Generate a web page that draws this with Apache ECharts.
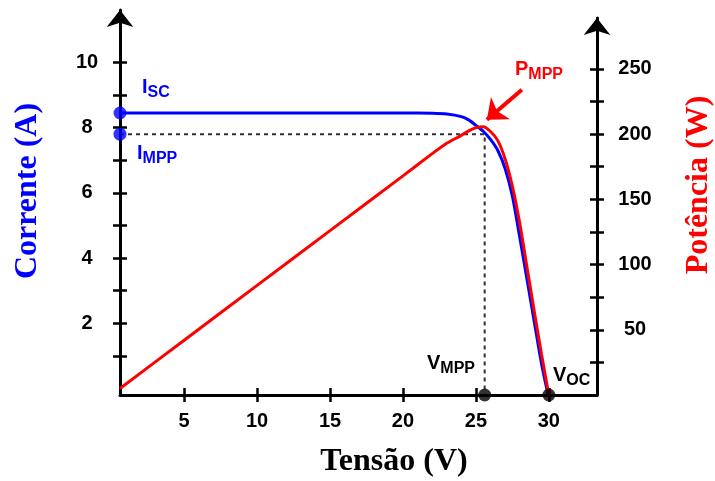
<!DOCTYPE html>
<html>
<head>
<meta charset="utf-8">
<script src="https://cdn.jsdelivr.net/npm/echarts@6/dist/echarts.min.js"></script>
<style>
  html, body { margin: 0; padding: 0; background: #fff; }
  #chart { width: 715px; height: 481px; }
</style>
</head>
<body>
<div id="chart"></div>
<script>
// curva I-V e P-V de um módulo fotovoltaico
const voltage = [0.6, 5, 10, 15, 20, 22, 23, 24, 24.5, 25, 25.5, 26, 26.5, 27, 27.5, 28, 28.5, 29, 29.5, 30];
const current = [8.45, 8.45, 8.45, 8.45, 8.45, 8.44, 8.42, 8.34, 8.24, 8.07, 7.89, 7.64, 7.3, 6.75, 5.9, 4.65, 3.35, 2.05, 0.75, -0.3];
const power = [5, 42, 84, 126, 168, 185, 193, 199, 202.5, 205, 205.7, 202, 195, 181, 160, 132, 98, 64, 31, 0];

const iSc = 8.45;
const iMpp = 7.8;
const vMpp = 25.6;
const vOc = 30;

const xTicks = [5, 10, 15, 20, 25, 30];
const currentTicks = [1, 2, 3, 4, 5, 6, 7, 8, 9, 10];
const currentLabels = [2, 4, 6, 8, 10];
const powerTicks = [25, 50, 75, 100, 125, 150, 175, 200, 225, 250];
const powerLabels = [50, 100, 150, 200, 250];

// seta do P_MPP (em V, W)
const arrowFrom = [28.15, 234];
const arrowTo = [25.75, 211];

const chart = echarts.init(document.getElementById('chart'));

const X_MIN = 0.6, X_MAX = 33.3;
const I_MIN = -0.2, I_MAX = 11.61;
const P_MIN = 0, P_MAX = 289;
const tickFont = { fontSize: 20, fontWeight: 'bold', fontFamily: 'Liberation Sans', color: '#000' };
const axisLine = { show: true, onZero: false, lineStyle: { color: '#000', width: 3 } };
const tickStyle = { color: '#000', width: 2.5 };

function sub(main, s, color, x, y) {
  return {
    type: 'text',
    x: x,
    y: y,
    z: 100,
    style: {
      text: '{m|' + main + '}{s|' + s + '}',
      align: 'left',
      verticalAlign: 'middle',
      fill: color,
      rich: {
        m: { fontSize: 20, fontWeight: 'bold', fontFamily: 'Liberation Sans', fill: color, verticalAlign: 'bottom', padding: [0, 0, 4, 0] },
        s: { fontSize: 16, fontWeight: 'bold', fontFamily: 'Liberation Sans', fill: color, verticalAlign: 'bottom' }
      }
    }
  };
}

function axisName(text, color, x, y, rot) {
  return {
    type: 'text',
    x: x,
    y: y,
    rotation: rot,
    style: {
      text: text,
      fill: color,
      align: 'center',
      verticalAlign: 'middle',
      fontSize: 32,
      fontWeight: 'bold',
      fontFamily: 'Liberation Serif'
    }
  };
}

const option = {
  backgroundColor: '#fff',
  animation: false,
  grid: [
    { left: 120, right: 118, top: 10, bottom: 86 },
    { left: 120, right: 118, top: 18, bottom: 86 }
  ],
  xAxis: [
    {
      type: 'value', gridIndex: 0, position: 'bottom', min: X_MIN, max: X_MAX,
      axisLine: axisLine,
      axisTick: { show: true, length: 7, customValues: xTicks, lineStyle: tickStyle },
      axisLabel: Object.assign({ customValues: xTicks, margin: 16 }, tickFont),
      splitLine: { show: false }
    },
    {
      type: 'value', gridIndex: 0, position: 'bottom', min: X_MIN, max: X_MAX,
      axisLine: { show: false, onZero: false },
      axisTick: { show: true, inside: true, length: 7, customValues: xTicks, lineStyle: tickStyle },
      axisLabel: { show: false },
      splitLine: { show: false }
    },
    {
      type: 'value', gridIndex: 1, min: X_MIN, max: X_MAX, show: false
    }
  ],
  yAxis: [
    {
      type: 'value', gridIndex: 0, position: 'left', min: I_MIN, max: I_MAX,
      axisLine: Object.assign({ symbol: ['none', 'arrow'], symbolSize: [20, 17] }, axisLine),
      axisTick: { show: true, length: 7, customValues: currentTicks, lineStyle: tickStyle },
      axisLabel: Object.assign({ customValues: currentLabels, margin: 33, align: 'center' }, tickFont),
      splitLine: { show: false }
    },
    {
      type: 'value', gridIndex: 0, position: 'left', min: I_MIN, max: I_MAX,
      axisLine: { show: false, onZero: false },
      axisTick: { show: true, inside: true, length: 7, customValues: currentTicks, lineStyle: tickStyle },
      axisLabel: { show: false },
      splitLine: { show: false }
    },
    {
      type: 'value', gridIndex: 1, position: 'right', min: P_MIN, max: P_MAX,
      axisLine: Object.assign({ symbol: ['none', 'arrow'], symbolSize: [20, 17] }, axisLine),
      axisTick: { show: true, length: 7, customValues: powerTicks, lineStyle: tickStyle },
      axisLabel: Object.assign({ customValues: powerLabels, margin: 38, align: 'center' }, tickFont),
      splitLine: { show: false }
    },
    {
      type: 'value', gridIndex: 1, position: 'right', min: P_MIN, max: P_MAX,
      axisLine: { show: false, onZero: false },
      axisTick: { show: true, inside: true, length: 7, customValues: powerTicks, lineStyle: tickStyle },
      axisLabel: { show: false },
      splitLine: { show: false }
    }
  ],
  series: [
    {
      name: 'MPP',
      type: 'line',
      xAxisIndex: 0, yAxisIndex: 0,
      data: [[X_MIN, iMpp], [vMpp, iMpp], [vMpp, I_MIN]],
      showSymbol: false,
      lineStyle: { color: '#333', width: 2, type: [4, 4] },
      z: 1
    },
    {
      name: 'Corrente',
      type: 'line',
      xAxisIndex: 0, yAxisIndex: 0,
      data: voltage.map((v, i) => [v, current[i]]),
      smooth: 0.25,
      showSymbol: false,
      lineStyle: { color: '#0000ff', width: 3 },
      z: 2
    },
    {
      name: 'Potência',
      type: 'line',
      xAxisIndex: 2, yAxisIndex: 2,
      data: voltage.map((v, i) => [v, power[i]]),
      smooth: 0.25,
      showSymbol: false,
      lineStyle: { color: '#ff0000', width: 3 },
      z: 3,
      markLine: {
        silent: true,
        symbol: ['none', 'arrow'],
        symbolSize: [22, 18],
        label: { show: false },
        lineStyle: { color: '#ff0000', width: 4, type: 'solid' },
        data: [[{ coord: arrowFrom }, { coord: arrowTo }]]
      }
    },
    {
      name: 'I pontos',
      type: 'scatter',
      xAxisIndex: 0, yAxisIndex: 0,
      clip: false,
      symbolSize: 13,
      itemStyle: { color: '#0000ff' },
      data: [[X_MIN, iSc], [X_MIN, iMpp]],
      z: 5
    },
    {
      name: 'V pontos',
      type: 'scatter',
      xAxisIndex: 2, yAxisIndex: 2,
      clip: false,
      symbolSize: 13,
      itemStyle: { color: '#000' },
      data: [[vMpp, 0], [vOc, 0]],
      z: 5
    }
  ],
  graphic: [
    axisName('Corrente (A)', '#0000ff', 28, 191, Math.PI / 2),
    axisName('Potência (W)', '#ff0000', 699, 185, Math.PI / 2),
    axisName('Tensão (V)', '#000', 394, 462, 0),
    sub('I', 'SC', '#0000ff', 142, 89),
    sub('I', 'MPP', '#0000ff', 137, 155),
    sub('P', 'MPP', '#ff0000', 515, 71),
    sub('V', 'MPP', '#000', 427, 365),
    sub('V', 'OC', '#000', 553, 377)
  ]
};

chart.setOption(option);
</script>
</body>
</html>
